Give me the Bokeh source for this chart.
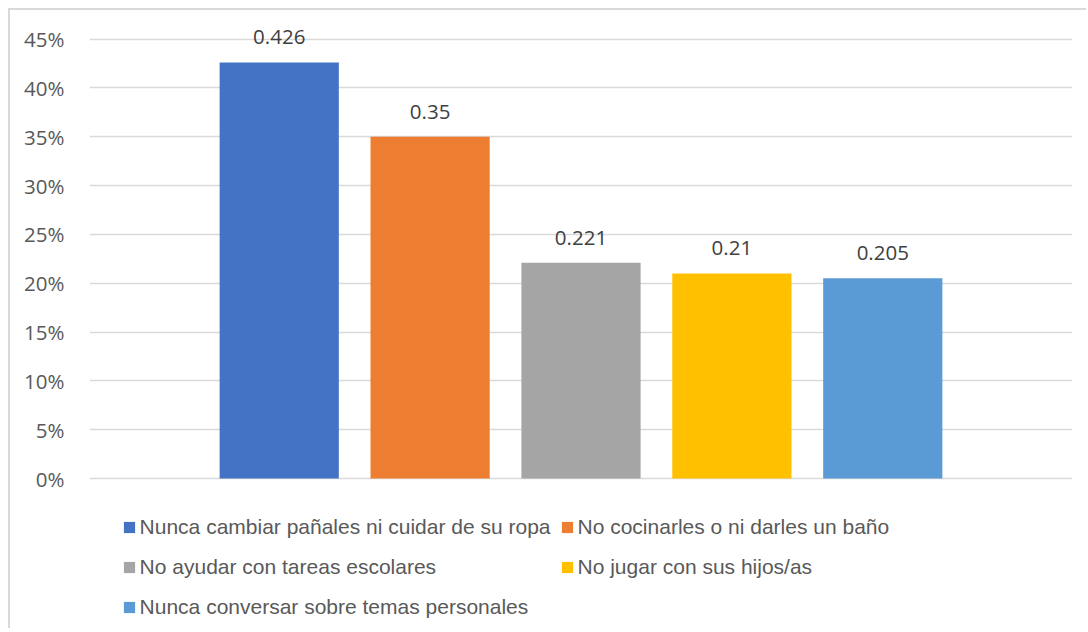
from bokeh.plotting import figure
from bokeh.models import (ColumnDataSource, FactorRange, Range1d, FixedTicker,
                          NumeralTickFormatter, LabelSet)
from bokeh.core.properties import value
from bokeh.embed import file_html
from bokeh.resources import INLINE

categories = [
    "Nunca cambiar pañales ni cuidar de su ropa",
    "No cocinarles o ni darles un baño",
    "No ayudar con tareas escolares",
    "No jugar con sus hijos/as",
    "Nunca conversar sobre temas personales",
]
values = [0.426, 0.35, 0.221, 0.21, 0.205]
colors = ["#4472C4", "#ED7D31", "#A5A5A5", "#FFC000", "#5B9BD5"]
y_ticks = [0, 0.05, 0.10, 0.15, 0.20, 0.25, 0.30, 0.35, 0.40, 0.45]

source = ColumnDataSource(dict(
    cat=categories, val=values, color=colors,
    label=[f"{v:g}" for v in values],
))

p = figure(
    width=1078, height=620,
    x_range=FactorRange(*categories, range_padding=0.303, range_padding_units="percent"),
    y_range=Range1d(-0.1556, 0.47),
    output_backend="svg", toolbar_location=None, x_axis_location=None,
    min_border_left=79, min_border_right=16, min_border_top=9, min_border_bottom=0,
    outline_line_color=None, background_fill_color="white", border_fill_color="white",
)
p.styles = {"border-top": "2px solid #d9d9d9", "border-left": "2px solid #d9d9d9",
            "margin-top": "8px", "margin-left": "8px"}

p.vbar(x="cat", top="val", bottom=0, width=0.79, color="color", line_color=None,
       source=source, legend_field="cat")

labels = LabelSet(x="cat", y="val", text="label", source=source,
                  text_align="center", text_baseline="middle", y_offset=25,
                  text_font=value("Open Sans"), text_font_size="20.5px",
                  text_color="#404040")
p.add_layout(labels)

yaxis = p.yaxis[0]
yaxis.ticker = FixedTicker(ticks=y_ticks)
yaxis.formatter = NumeralTickFormatter(format="0%")
yaxis.axis_line_color = None
yaxis.major_tick_line_color = None
yaxis.minor_tick_line_color = None
yaxis.major_label_text_font = "Open Sans"
yaxis.major_label_text_font_size = "20.5px"
yaxis.major_label_text_color = "#595959"
yaxis.major_label_standoff = 19

p.ygrid.grid_line_color = "#d9d9d9"
p.ygrid.grid_line_width = 1.5
p.xgrid.visible = False

lg = p.legend[0]
lg.orientation = "horizontal"
lg.ncols = 2
lg.location = (32.6, 8)
lg.padding = 0
lg.margin = 0
lg.border_line_color = None
lg.background_fill_alpha = 0
lg.glyph_width = 14
lg.glyph_height = 14
lg.label_height = 31
lg.label_standoff = 4
lg.spacing = 9
lg.label_text_font = "Liberation Sans"
lg.label_text_font_size = "21px"
lg.label_text_color = "#595959"

open("out.html", "w").write(file_html(p, INLINE))
